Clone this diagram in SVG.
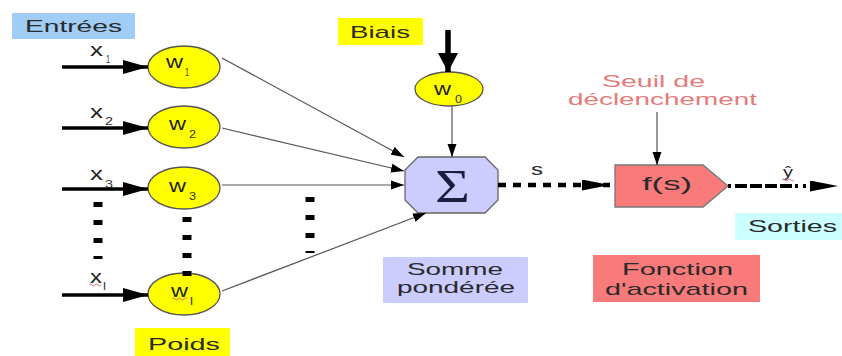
<svg xmlns="http://www.w3.org/2000/svg" width="842" height="356" viewBox="0 0 842 356">
  <style>
    .lbl { font-family: "Liberation Sans", Arial, sans-serif; fill: #2a2a2a; }
    .sym { font-family: "Liberation Sans", Arial, sans-serif; fill: #222; font-size: 18px; }
    .sub { font-family: "Liberation Sans", Arial, sans-serif; fill: #333; font-size: 10px; }
    .weight { fill: #ffff00; stroke: #555; stroke-width: 1.3; }
    .thin { stroke: #555; stroke-width: 1.2; fill: none; }
    .thick { stroke: #000; stroke-width: 3.5; fill: none; }
    .dots { stroke: #000; stroke-width: 9; stroke-dasharray: 5 13; fill: none; }
    .squiggle { stroke: #d46a6a; stroke-width: 0.9; fill: none; }
  </style>
  <defs>
    <marker id="headIn" markerUnits="userSpaceOnUse" markerWidth="25" markerHeight="14" refX="25" refY="7" orient="auto">
      <path d="M0,0 L25,7 L0,14 z" fill="#000"/>
    </marker>
    <marker id="headThin" markerUnits="userSpaceOnUse" markerWidth="13" markerHeight="10" refX="13" refY="5" orient="auto">
      <path d="M0,0.5 L13,5 L0,9.5 z" fill="#000"/>
    </marker>
    <marker id="headBias" markerUnits="userSpaceOnUse" markerWidth="19" markerHeight="20" refX="19" refY="10" orient="auto">
      <path d="M0,0 L19,10 L0,20 z" fill="#000"/>
    </marker>
    <marker id="headLong" markerUnits="userSpaceOnUse" markerWidth="28" markerHeight="11" refX="28" refY="5.5" orient="auto">
      <path d="M0,0 L28,5.5 L0,11 z" fill="#000"/>
    </marker>
  </defs>

  <rect width="842" height="356" fill="#fff"/>

  <!-- captions -->
  <g id="label-entrees">
    <rect x="12" y="13" width="123" height="26" fill="#9fcdf5"/>
    <text class="lbl" x="25" y="32" font-size="17" textLength="97" lengthAdjust="spacingAndGlyphs">Entrées</text>
  </g>
  <g id="label-biais">
    <rect x="338" y="18" width="85" height="27" fill="#ffff00"/>
    <text class="lbl" x="350" y="38" font-size="17" textLength="60" lengthAdjust="spacingAndGlyphs">Biais</text>
  </g>
  <g id="label-poids">
    <rect x="135" y="328" width="95" height="28" fill="#ffff00"/>
    <text class="lbl" x="148" y="350" font-size="17" textLength="72" lengthAdjust="spacingAndGlyphs">Poids</text>
  </g>
  <g id="label-somme">
    <rect x="383" y="257" width="145" height="46" fill="#ccccff"/>
    <text class="lbl" x="407" y="275" font-size="17" textLength="96" lengthAdjust="spacingAndGlyphs">Somme</text>
    <text class="lbl" x="397" y="293" font-size="17" textLength="118" lengthAdjust="spacingAndGlyphs">pondérée</text>
  </g>
  <g id="label-fonction">
    <rect x="593" y="255" width="167" height="47" fill="#f87a7a"/>
    <text class="lbl" x="622" y="275" font-size="17" textLength="111" lengthAdjust="spacingAndGlyphs">Fonction</text>
    <text class="lbl" x="605" y="295" font-size="17" textLength="143" lengthAdjust="spacingAndGlyphs">d'activation</text>
  </g>
  <g id="label-sorties">
    <rect x="735" y="213" width="107" height="27" fill="#ccffff"/>
    <text class="lbl" x="748" y="232" font-size="17" textLength="89" lengthAdjust="spacingAndGlyphs">Sorties</text>
  </g>
  <g id="label-seuil">
    <text x="602" y="87" font-size="17" font-family="Liberation Sans, Arial, sans-serif" fill="#e87a7a" textLength="103" lengthAdjust="spacingAndGlyphs">Seuil de</text>
    <text x="568" y="105" font-size="17" font-family="Liberation Sans, Arial, sans-serif" fill="#e87a7a" textLength="189" lengthAdjust="spacingAndGlyphs">déclenchement</text>
  </g>

  <!-- input labels -->
  <g id="inputs">
    <text class="sym" x="90" y="56" textLength="13" lengthAdjust="spacingAndGlyphs">x</text>
    <text class="sub" x="106" y="63" textLength="4" lengthAdjust="spacingAndGlyphs">1</text>
    <text class="sym" x="90" y="118" textLength="13" lengthAdjust="spacingAndGlyphs">x</text>
    <text class="sub" x="105" y="125" textLength="8" lengthAdjust="spacingAndGlyphs">2</text>
    <text class="sym" x="90" y="180" textLength="13" lengthAdjust="spacingAndGlyphs">x</text>
    <text class="sub" x="105" y="188" textLength="8" lengthAdjust="spacingAndGlyphs">3</text>
    <text class="sym" x="90" y="283" textLength="12" lengthAdjust="spacingAndGlyphs">x</text>
    <text class="sub" x="103" y="290" textLength="3" lengthAdjust="spacingAndGlyphs">l</text>
    <path class="squiggle" d="M89,285 q1.5,-2 3,0 t3,0 t3,0 t3,0"/>
  </g>

  <!-- weight nodes -->
  <g id="w1">
    <ellipse class="weight" cx="184" cy="67" rx="36" ry="21"/>
    <text class="sym" x="166" y="68" textLength="17" lengthAdjust="spacingAndGlyphs">w</text>
    <text class="sub" x="185" y="76" textLength="4" lengthAdjust="spacingAndGlyphs">1</text>
  </g>
  <g id="w2">
    <ellipse class="weight" cx="184" cy="127" rx="36" ry="21"/>
    <text class="sym" x="169" y="130" textLength="17" lengthAdjust="spacingAndGlyphs">w</text>
    <text class="sub" x="189" y="138" textLength="7" lengthAdjust="spacingAndGlyphs">2</text>
  </g>
  <g id="w3">
    <ellipse class="weight" cx="184" cy="188" rx="36" ry="21"/>
    <text class="sym" x="169" y="192" textLength="17" lengthAdjust="spacingAndGlyphs">w</text>
    <text class="sub" x="189" y="200" textLength="7" lengthAdjust="spacingAndGlyphs">3</text>
  </g>
  <g id="wl">
    <ellipse class="weight" cx="184" cy="294" rx="36" ry="21"/>
    <text class="sym" x="171" y="297" textLength="17" lengthAdjust="spacingAndGlyphs">w</text>
    <text class="sub" x="190" y="305" textLength="3" lengthAdjust="spacingAndGlyphs">l</text>
    <path class="squiggle" d="M172,299 q1.5,-2 3,0 t3,0 t3,0 t3,0 t3,0"/>
  </g>
  <g id="w0">
    <ellipse class="weight" cx="449" cy="89" rx="34" ry="17"/>
    <text class="sym" x="434" y="95" textLength="17" lengthAdjust="spacingAndGlyphs">w</text>
    <text class="sub" x="455" y="103" textLength="7" lengthAdjust="spacingAndGlyphs">0</text>
  </g>

  <!-- summation node -->
  <g id="sum">
    <polygon points="418,157 485,157 498,170 498,200 485,213 418,213 405,200 405,170" fill="#ccccff" stroke="#666" stroke-width="1.3"/>
    <text x="435" y="202" font-size="46" font-family="Liberation Serif, Times New Roman, serif" fill="#1c1c40" textLength="35" lengthAdjust="spacingAndGlyphs">Σ</text>
  </g>

  <!-- activation node -->
  <g id="activation">
    <polygon points="615,165 703,165 728,186 703,207 615,207" fill="#f87a7a" stroke="#777" stroke-width="1.3"/>
    <text class="lbl" x="642" y="190" font-size="18" textLength="50" lengthAdjust="spacingAndGlyphs">f(s)</text>
  </g>

  <!-- connectors -->
  <g id="connectors">
    <line class="thick" x1="62" y1="67" x2="148" y2="67" marker-end="url(#headIn)"/>
    <line class="thick" x1="62" y1="128" x2="148" y2="128" marker-end="url(#headIn)"/>
    <line class="thick" x1="62" y1="189" x2="148" y2="189" marker-end="url(#headIn)"/>
    <line class="thick" x1="62" y1="295" x2="148" y2="295" marker-end="url(#headIn)"/>

    <line class="thin" x1="222" y1="58" x2="404" y2="157" marker-end="url(#headThin)"/>
    <line class="thin" x1="222" y1="128" x2="404" y2="171" marker-end="url(#headThin)"/>
    <line class="thin" x1="222" y1="185" x2="404" y2="185" marker-end="url(#headThin)"/>
    <line class="thin" x1="222" y1="291" x2="426" y2="213" marker-end="url(#headThin)"/>
    <line class="thin" x1="452" y1="106" x2="452" y2="157" marker-end="url(#headThin)"/>
    <line class="thin" x1="657" y1="112" x2="657" y2="165" marker-end="url(#headThin)"/>

    <line x1="448" y1="30" x2="448" y2="72" stroke="#000" stroke-width="5.5" marker-end="url(#headBias)"/>

    <line x1="498" y1="185" x2="610" y2="185" stroke="#000" stroke-width="4.5" stroke-dasharray="8 7" marker-end="url(#headLong)"/>
    <line x1="728" y1="186" x2="838" y2="186" stroke="#000" stroke-width="4" stroke-dasharray="3 4 12 3 12 3 12 3 12 3 3 5 3 4 0 100" marker-end="url(#headLong)"/>

    <line class="dots" x1="98" y1="202" x2="98" y2="259"/>
    <line class="dots" x1="187" y1="217" x2="187" y2="276"/>
    <line class="dots" x1="310" y1="197" x2="310" y2="253"/>
  </g>

  <!-- connector labels -->
  <g id="edge-labels">
    <text class="lbl" x="531" y="175" font-size="17" textLength="12" lengthAdjust="spacingAndGlyphs">s</text>
    <text class="lbl" x="783" y="177" font-size="15" textLength="10" lengthAdjust="spacingAndGlyphs">ŷ</text>
    <path class="squiggle" d="M782,180 q1.5,-2 3,0 t3,0 t3,0 t3,0"/>
  </g>
</svg>
